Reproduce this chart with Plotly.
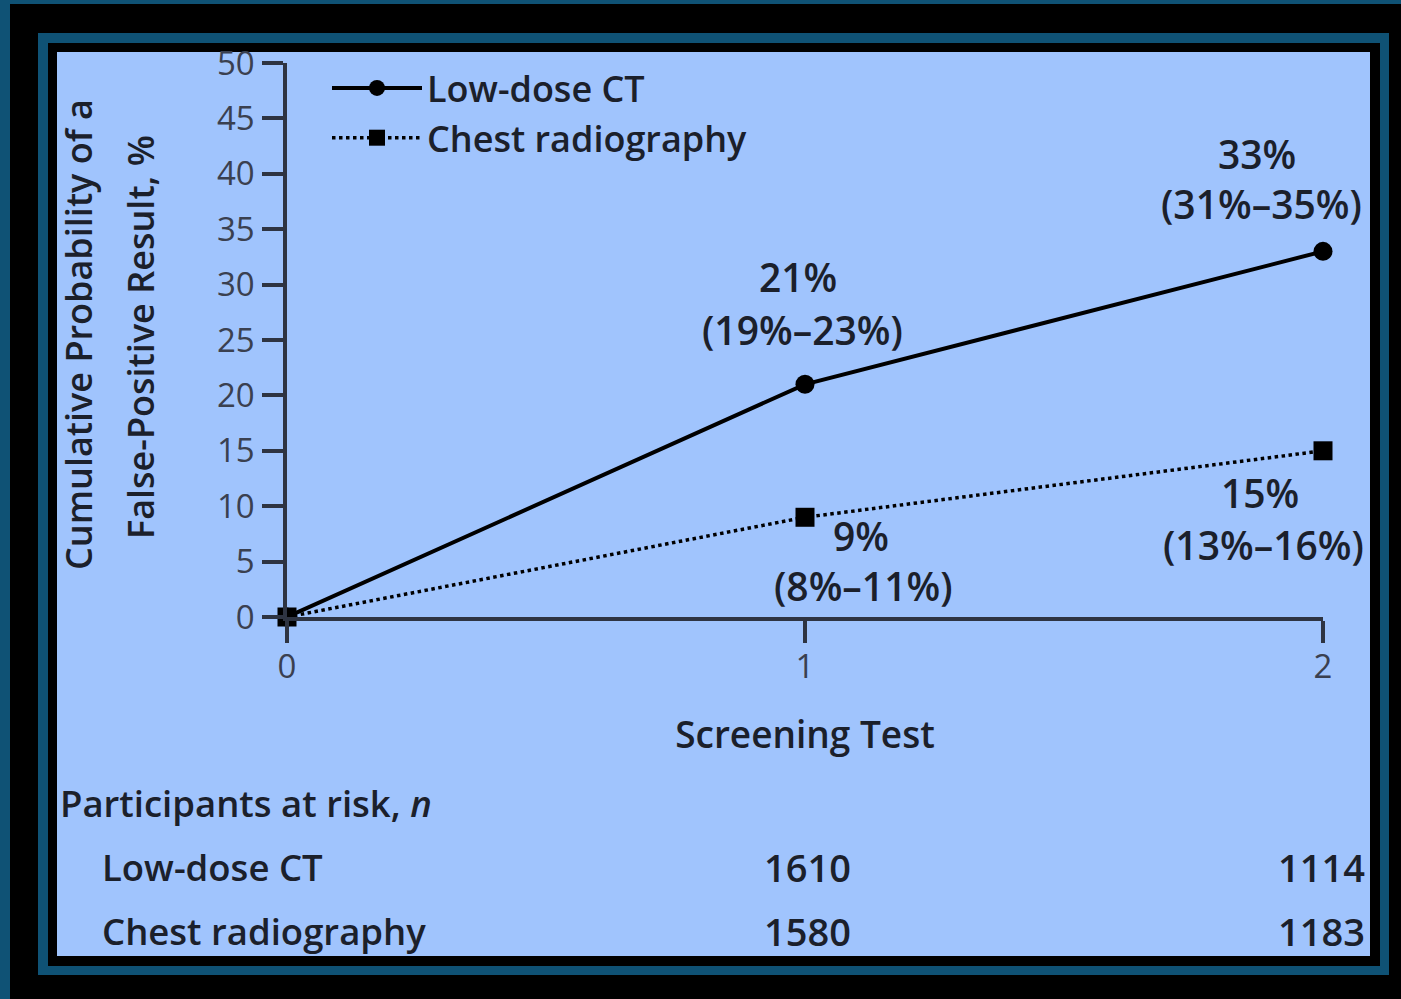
import plotly.graph_objects as go

# ---- data ----
screening = [0, 1, 2]
ldct = [0, 21, 33]
cxr = [0, 9, 15]
ldct_ci = ["", "(19%–23%)", "(31%–35%)"]
cxr_ci = ["", "(8%–11%)", "(13%–16%)"]
risk_tests = [1, 2]
ldct_at_risk = [1610, 1114]
cxr_at_risk = [1580, 1183]
y_ticks = [0, 5, 10, 15, 20, 25, 30, 35, 40, 45, 50]

W, H = 1401, 999
ML, MR, MT, MB = 287, 78, 63, 382
PW, PH = W - ML - MR, H - MT - MB

def px(x):
    return (x - ML) / PW

def py(y):
    return (H - MB - y) / PH

TEAL = "#0f5275"
BLUE = "#a0c4fd"
INK = "#1b202b"
AXC = "#2e3442"
TICKC = "#3a4050"
FONT = "Open Sans"

fig = go.Figure()
fig.add_trace(go.Scatter(
    x=screening, y=ldct, name="Low-dose CT", mode="lines+markers",
    line=dict(color="#000000", width=4),
    marker=dict(symbol="circle", size=19, color="#000000"),
    cliponaxis=False))
fig.add_trace(go.Scatter(
    x=screening, y=cxr, name="Chest radiography", mode="lines+markers",
    line=dict(color="#000000", width=3.5, dash="dot"),
    marker=dict(symbol="square", size=19, color="#000000"),
    cliponaxis=False))

# frames
shapes = [
    dict(type="rect", xref="paper", yref="paper", x0=px(0), x1=px(W + 20), y0=py(0), y1=py(4),
         fillcolor=TEAL, line=dict(width=0), layer="below"),
    dict(type="rect", xref="paper", yref="paper", x0=px(0), x1=px(10), y0=py(0), y1=py(H + 20),
         fillcolor=TEAL, line=dict(width=0), layer="below"),
    dict(type="rect", xref="paper", yref="paper", x0=px(38), x1=px(1389), y0=py(33), y1=py(975),
         fillcolor=TEAL, line=dict(width=0), layer="below"),
    dict(type="rect", xref="paper", yref="paper", x0=px(48), x1=px(1380), y0=py(43), y1=py(966),
         fillcolor="#000000", line=dict(width=0), layer="below"),
    dict(type="rect", xref="paper", yref="paper", x0=px(57), x1=px(1370), y0=py(52), y1=py(956),
         fillcolor=BLUE, line=dict(width=0), layer="below"),
]

ann = []
lab_font = dict(family=FONT, size=39, color=INK, weight=600)
# LDCT labels (above points)
ldct_offsets = {1: (-7, 108, -3, 55), 2: (-66, 98, -62, 48)}
for i in (1, 2):
    dx1, dy1, dx2, dy2 = ldct_offsets[i]
    ann.append(dict(x=screening[i], y=ldct[i], xref="x", yref="y", text=f"{ldct[i]}%",
                    showarrow=False, xshift=dx1, yshift=dy1, font=lab_font))
    ann.append(dict(x=screening[i], y=ldct[i], xref="x", yref="y", text=ldct_ci[i],
                    showarrow=False, xshift=dx2, yshift=dy2, font=lab_font))
cxr_offsets = {1: (56, -18, 58, -68), 2: (-63, -42, -60, -94)}
for i in (1, 2):
    dx1, dy1, dx2, dy2 = cxr_offsets[i]
    ann.append(dict(x=screening[i], y=cxr[i], xref="x", yref="y", text=f"{cxr[i]}%",
                    showarrow=False, xshift=dx1, yshift=dy1, font=lab_font))
    ann.append(dict(x=screening[i], y=cxr[i], xref="x", yref="y", text=cxr_ci[i],
                    showarrow=False, xshift=dx2, yshift=dy2, font=lab_font))

# y-axis title (two lines, wide line spacing)
ytitle_font = dict(family=FONT, size=36, color=INK, weight=600)
ann.append(dict(x=px(78), y=py(335), xref="paper", yref="paper", xanchor="center", yanchor="middle",
                text="Cumulative Probability of a", textangle=-90, showarrow=False, font=ytitle_font))
ann.append(dict(x=px(140), y=py(337), xref="paper", yref="paper", xanchor="center", yanchor="middle",
                text="False-Positive Result, %", textangle=-90, showarrow=False, font=ytitle_font))

# at-risk table
tab_font = dict(family=FONT, size=36.5, color=INK, weight=600)
num_font = dict(family=FONT, size=38, color=INK, weight=600)
ann.append(dict(x=px(58), y=py(803), xref="paper", yref="paper", xanchor="left", yanchor="middle",
                text="Participants at risk, <i>n</i>", showarrow=False, font=tab_font))
ann.append(dict(x=px(100), y=py(867), xref="paper", yref="paper", xanchor="left", yanchor="middle",
                text="Low-dose CT", showarrow=False, font=tab_font))
ann.append(dict(x=px(100), y=py(931), xref="paper", yref="paper", xanchor="left", yanchor="middle",
                text="Chest radiography", showarrow=False, font=tab_font))
for t, v in zip(risk_tests, ldct_at_risk):
    ann.append(dict(x=t, y=py(867), xref="x", yref="paper", xanchor="center", yanchor="middle",
                    text=str(v), showarrow=False, font=num_font, xshift=2 if t == 1 else -2))
for t, v in zip(risk_tests, cxr_at_risk):
    ann.append(dict(x=t, y=py(931), xref="x", yref="paper", xanchor="center", yanchor="middle",
                    text=str(v), showarrow=False, font=num_font, xshift=2 if t == 1 else -2))

fig.update_layout(
    width=W, height=H,
    margin=dict(l=ML, r=MR, t=MT, b=MB, autoexpand=False),
    paper_bgcolor="#000000",
    plot_bgcolor="rgba(0,0,0,0)",
    shapes=shapes,
    annotations=ann,
    showlegend=True,
    legend=dict(x=px(327), y=py(58), xanchor="left", yanchor="top",
                bgcolor="rgba(0,0,0,0)", borderwidth=0,
                font=dict(family=FONT, size=36, color=INK, weight=600),
                itemwidth=90, tracegroupgap=0),
    xaxis=dict(range=[0, 2], tickvals=screening, ticktext=[str(s) for s in screening],
               showline=True, linecolor=AXC, linewidth=3.5, ticks="outside", ticklen=22,
               tickwidth=3.5, tickcolor=AXC, showgrid=False, zeroline=False,
               tickfont=dict(family=FONT, size=33, color=TICKC), ticklabelstandoff=-4,
               title=dict(text="Screening Test", standoff=36,
                          font=dict(family=FONT, size=37, color=INK, weight=600))),
    yaxis=dict(range=[0, 50], tickvals=y_ticks, showline=True, linecolor=AXC, linewidth=3.5,
               ticks="outside", ticklen=21, tickwidth=3.5, tickcolor=AXC, showgrid=False,
               zeroline=False, tickfont=dict(family=FONT, size=33, color=TICKC),
               ticklabelstandoff=1),
)

fig.write_html(
    "out.html",
    config={"displayModeBar": False},
    post_script="document.body.style.margin='0';document.body.style.padding='0';"
                "document.body.style.background='#000';",
)
